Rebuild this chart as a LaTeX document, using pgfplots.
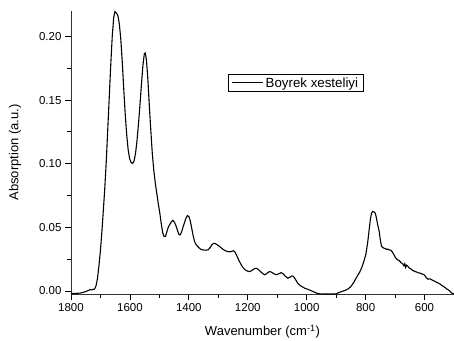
\documentclass[border=0pt]{standalone}
\usepackage{pgfplots}
\pgfplotsset{compat=1.18}
\usepackage{fontspec}
\setmainfont{Liberation Sans}
\begin{document}
\begin{tikzpicture}
\begin{axis}[
  at={(0,0)}, anchor=south west,
  scale only axis, width=383bp, height=283bp,
  xmin=500, xmax=1800, x dir=reverse,
  ymin=-0.0024, ymax=0.22,
  axis x line*=bottom, axis y line*=left,
  axis line style={-, line width=0.9bp, black!80},
  xtick={600,800,1000,1200,1400,1600,1800},
  minor xtick={700,900,1100,1300,1500,1700},
  ytick={0,0.05,0.1,0.15,0.2},
  minor ytick={0.025,0.075,0.125,0.175},
  tick align=outside,
  major tick length=6bp, minor tick length=3.5bp,
  tick style={line width=0.8bp, black},
  ticklabel style={font=\fontsize{11.5bp}{13bp}\selectfont},
  /pgf/number format/assume math mode=true,
  xticklabel style={/pgf/number format/1000 sep={}},
  yticklabel style={/pgf/number format/fixed, /pgf/number format/fixed zerofill, /pgf/number format/precision=2},
  xlabel={Wavenumber (cm\textsuperscript{-1})},
  ylabel={Absorption (a.u.)},
  label style={font=\fontsize{13bp}{15bp}\selectfont},
  xlabel style={at={(axis description cs:0.5,-0.134)}, anchor=center},
  ylabel style={at={(axis description cs:-0.146,0.5)}, anchor=center},
  legend style={at={(axis cs:1268,0.1705)}, anchor=north west, draw=black, line width=0.8bp,
    font=\fontsize{13.3bp}{15bp}\selectfont, inner xsep=3.5bp, inner ysep=1bp},
  legend cell align=left,
  legend image code/.code={\draw[#1] (0bp,0bp) -- (31bp,0bp);},
]
\addplot[black, line width=1.1bp] table {
1800 -0.0020
1790 -0.0020
1780 -0.0019
1770 -0.0017
1760 -0.0012
1750 -0.0005
1740 0.0005
1735 0.0010
1730 0.0008
1725 0.0012
1720 0.0015
1715 0.0040
1710 0.0100
1705 0.0200
1700 0.0320
1695 0.0470
1690 0.0640
1685 0.0820
1680 0.1030
1675 0.1280
1670 0.1530
1665 0.1780
1660 0.2000
1655 0.2150
1651 0.2195
1646 0.2185
1641 0.2165
1636 0.2100
1631 0.1980
1626 0.1800
1621 0.1590
1616 0.1390
1611 0.1230
1606 0.1110
1601 0.1040
1596 0.1010
1591 0.1002
1586 0.1020
1581 0.1080
1576 0.1180
1571 0.1310
1566 0.1460
1561 0.1620
1556 0.1770
1551 0.1865
1548 0.1870
1544 0.1820
1539 0.1660
1534 0.1450
1529 0.1260
1524 0.1080
1519 0.0950
1514 0.0850
1509 0.0770
1504 0.0690
1499 0.0620
1494 0.0535
1489 0.0460
1484 0.0428
1479 0.0430
1474 0.0470
1469 0.0505
1464 0.0525
1459 0.0545
1454 0.0555
1449 0.0540
1444 0.0515
1439 0.0480
1434 0.0445
1430 0.0440
1425 0.0460
1420 0.0500
1415 0.0535
1410 0.0570
1405 0.0592
1400 0.0585
1395 0.0550
1390 0.0490
1385 0.0430
1380 0.0385
1375 0.0362
1370 0.0350
1365 0.0338
1360 0.0328
1352 0.0322
1342 0.0320
1335 0.0323
1328 0.0340
1322 0.0362
1316 0.0374
1310 0.0372
1303 0.0362
1296 0.0350
1290 0.0338
1283 0.0325
1275 0.0315
1267 0.0309
1260 0.0308
1253 0.0312
1248 0.0316
1243 0.0305
1236 0.0270
1229 0.0235
1222 0.0205
1215 0.0180
1208 0.0165
1200 0.0155
1194 0.0152
1188 0.0158
1182 0.0168
1176 0.0176
1171 0.0178
1165 0.0170
1158 0.0155
1150 0.0138
1143 0.0127
1136 0.0135
1130 0.0148
1126 0.0152
1120 0.0148
1113 0.0138
1104 0.0128
1096 0.0133
1087 0.0144
1080 0.0135
1072 0.0115
1064 0.0100
1057 0.0108
1050 0.0118
1045 0.0115
1038 0.0090
1030 0.0060
1022 0.0042
1013 0.0030
1005 0.0020
996 0.0013
985 0.0002
975 -0.0008
965 -0.0018
955 -0.0023
940 -0.0024
925 -0.0024
910 -0.0024
900 -0.0022
890 -0.0012
880 -0.0004
870 0.0004
860 0.0015
850 0.0035
840 0.0068
830 0.0110
820 0.0148
812 0.0190
805 0.0240
799 0.0290
793 0.0380
788 0.0480
784 0.0560
780 0.0610
776 0.0625
771 0.0620
767 0.0610
763 0.0570
759 0.0520
754 0.0470
750 0.0400
746 0.0350
742 0.0342
737 0.0335
733 0.0333
729 0.0327
724 0.0328
719 0.0322
714 0.0320
709 0.0305
704 0.0285
698 0.0260
694 0.0250
690 0.0243
685 0.0238
681 0.0225
677 0.0218
673 0.0210
670 0.0198
667 0.0213
664 0.0185
661 0.0203
657 0.0195
653 0.0182
648 0.0175
644 0.0170
640 0.0160
636 0.0158
632 0.0152
628 0.0150
624 0.0145
620 0.0142
616 0.0140
612 0.0138
608 0.0132
604 0.0130
600 0.0125
596 0.0110
592 0.0100
588 0.0092
584 0.0095
580 0.0094
576 0.0088
572 0.0083
568 0.0079
564 0.0073
560 0.0070
556 0.0065
552 0.0060
548 0.0055
544 0.0048
540 0.0042
536 0.0036
532 0.0030
528 0.0022
524 0.0015
520 0.0010
516 0.0002
512 -0.0008
508 -0.0016
504 -0.0020
500 -0.0022
};
\addlegendentry{Boyrek xesteliyi}
\end{axis}
\pgfresetboundingbox
\path[use as bounding box] (-71bp,-47bp) rectangle (383bp,294bp);
\end{tikzpicture}
\end{document}
